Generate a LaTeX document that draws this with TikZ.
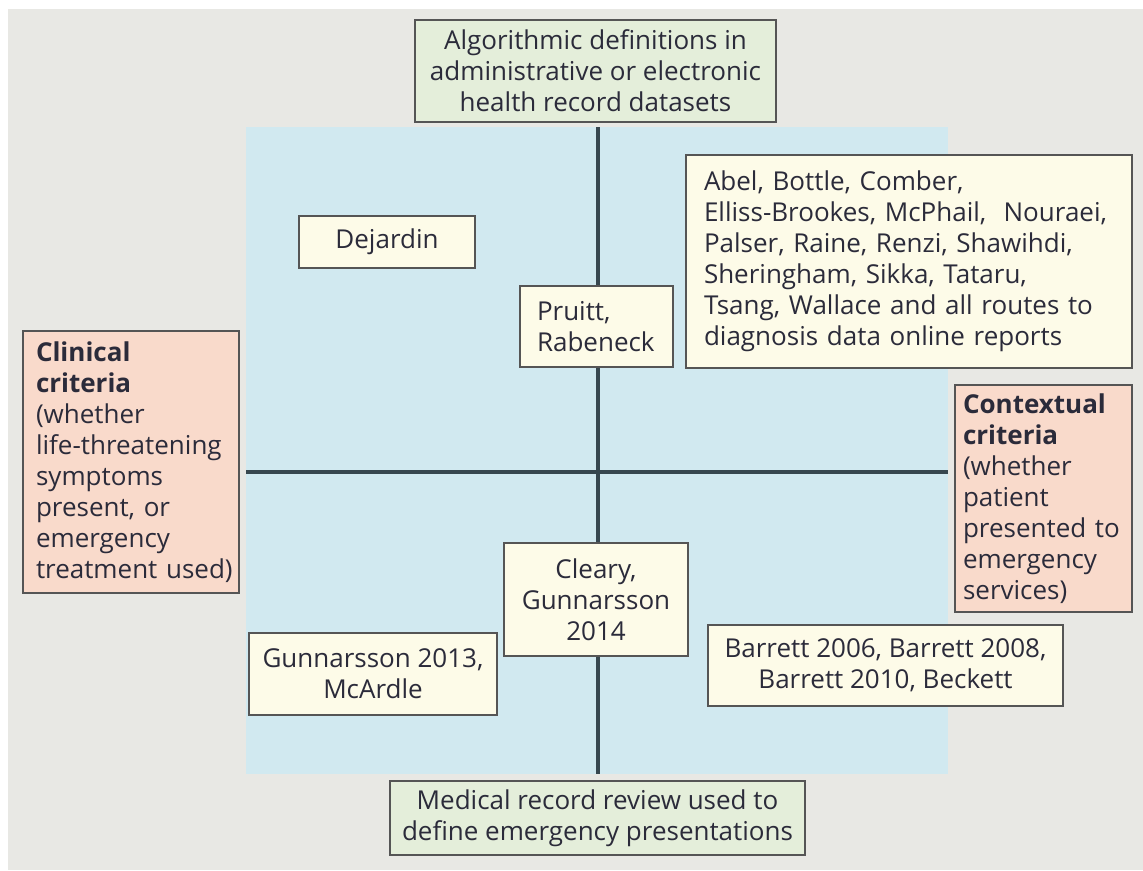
\documentclass[tikz,border=0pt]{standalone}
\usepackage{fontspec}
\setmainfont{Open Sans}
\definecolor{pagegray}{HTML}{E8E8E4}
\definecolor{fieldblue}{HTML}{D1E9F0}
\definecolor{cellyellow}{HTML}{FDFBE8}
\definecolor{axisgreen}{HTML}{E4EEDA}
\definecolor{criteriapink}{HTML}{F9DACB}
\definecolor{framegray}{HTML}{555555}
\definecolor{inkdark}{HTML}{2B2B3A}
\definecolor{axisline}{HTML}{37474F}
\tikzset{
  box/.style={draw=framegray, line width=1.4pt, text=inkdark, inner ysep=0pt,
    font=\fontsize{26}{31}\selectfont},
  study/.style={box, fill=cellyellow, align=center},
  studyleft/.style={box, fill=cellyellow, align=left},
  axisbox/.style={box, fill=axisgreen, align=center},
  criteria/.style={box, fill=criteriapink, align=left},
  axis/.style={draw=axisline, line width=4.5pt}
}
\begin{document}
\begin{tikzpicture}[x=1pt,y=-1pt]
\useasboundingbox (0,0) rectangle (1143,870);
% page and quadrant field
\fill[white] (0,0) rectangle (1143,870);
\fill[pagegray] (8,9) rectangle (1143,870);
\fill[fieldblue] (246,127) rectangle (948,774);
% axes
\coordinate (ytop) at (598,127);
\coordinate (ybot) at (598,774);
\coordinate (xleft) at (246,472);
\coordinate (xright) at (948,472);
\draw[axis] (ytop) -- (ybot);
\draw[axis] (xleft) -- (xright);
% axis end labels
\node[axisbox, minimum width=361pt, minimum height=102pt] (algo) at (595.5,71)
  {Algorithmic definitions in\\administrative or electronic\\health record datasets};
\node[axisbox, minimum width=415pt, minimum height=74pt] (review) at (597.5,818)
  {Medical record review used to\\define emergency presentations};
\node[criteria, text width=190pt, inner xsep=13pt, minimum height=262pt] (clin) at (131,462)
  {\textbf{Clinical}\\\textbf{criteria}\\(whether\\life-threatening\\symptoms\\present,~or\\emergency\\treatment~used)};
\node[criteria, text width=161pt, inner xsep=8pt, minimum height=227pt] (ctx) at (1043.5,498.5)
  {\textbf{Contextual}\\\textbf{criteria}\\(whether\\patient\\presented~to\\emergency\\services)};
% studies in the quadrants
\node[study, minimum width=176pt, minimum height=52pt] (dej) at (387,242) {Dejardin};
\node[studyleft, text width=119pt, inner xsep=17pt, minimum height=81pt] (pru) at (596.5,326.5)
  {Pruitt,\\Rabeneck};
\node[studyleft, text width=410pt, inner xsep=18pt, minimum height=213pt] (abel) at (909,261.5)
  {Abel, Bottle, Comber,\\Elliss-Brookes, McPhail,\ \ Nouraei,\\Palser, Raine, Renzi, Shawihdi,\\Sheringham, Sikka, Tataru,\\Tsang, Wallace and all routes to\\diagnosis data online reports};
\node[study, minimum width=184pt, minimum height=113pt] (cle) at (596,599.5)
  {Cleary,\\Gunnarsson\\2014};
\node[study, minimum width=248pt, minimum height=82pt] (gun) at (373,674)
  {Gunnarsson 2013,\\McArdle};
\node[study, minimum width=355pt, minimum height=81pt] (bar) at (885.5,665.5)
  {Barrett 2006, Barrett 2008,\\Barrett 2010, Beckett};
\end{tikzpicture}
\end{document}
